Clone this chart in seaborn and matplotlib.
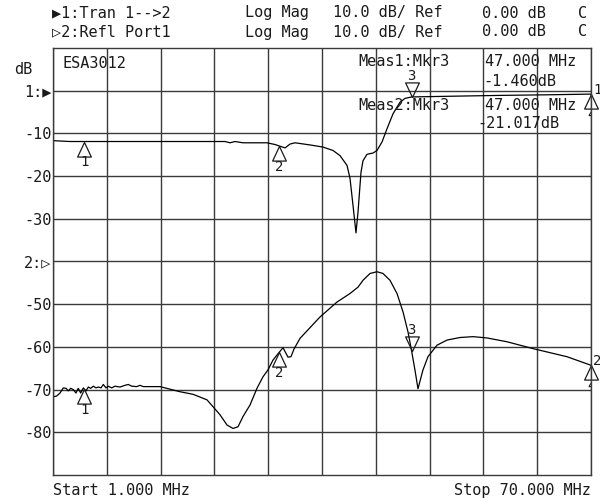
import numpy as np
import matplotlib
matplotlib.use('Agg')
import matplotlib.pyplot as plt
import seaborn as sns
from matplotlib.path import Path

# start / stop of the sweep (MHz) and the y scale (10 dB/div)
f_start, f_stop = 1.0, 70.0
ref_pos = {1: 0, 2: -40}   # where each trace's 0 dB reference sits on the grid

# trace 1 : Tran 1-->2 (dB)
t1_freq = [1.0, 3.18, 23.06, 23.70, 24.34, 25.37, 28.45, 29.47, 30.11, 30.76, 31.40, 32.04,
           33.96, 35.63, 36.91, 37.81, 38.71, 39.09, 39.48, 39.86, 40.12, 40.50, 40.76, 41.27,
           42.04, 42.55, 43.20, 43.84, 44.61, 45.50, 46.15, 47.0, 51.92, 58.33, 64.74, 70.0]
t1_db = [-11.7, -11.9, -11.9, -12.2, -11.9, -12.2, -12.2, -12.6, -13.0, -13.4, -12.5, -12.2,
         -12.7, -13.2, -14.0, -15.2, -17.5, -20.5, -26.9, -33.3, -28.4, -19.1, -16.4, -14.9,
         -14.6, -14.0, -12.0, -8.9, -5.4, -2.7, -1.8, -1.46, -1.3, -1.1, -0.95, -0.8]

# trace 2 : Refl Port1 (dB)
t2_freq = [1.0, 1.47, 1.90, 2.32, 2.67, 2.96, 3.27, 3.60, 3.95, 4.24, 4.55, 4.89, 5.23, 5.53,
           5.84, 6.17, 6.51, 6.81, 7.16, 7.45, 7.80, 8.09, 8.53, 8.95, 9.59, 10.23, 10.66,
           11.09, 11.73, 12.16, 12.58, 13.44, 14.72,
           16.01, 17.29, 18.96, 20.75, 21.52, 22.42, 23.32, 24.09, 24.73, 25.37, 26.27, 27.16,
           27.93, 28.57, 29.21, 29.86, 30.50, 30.88, 31.14, 31.52, 31.91, 32.68, 35.24, 37.42,
           39.09, 40.12, 40.76, 41.66, 42.55, 43.32, 44.22, 45.12, 45.89, 46.53, 47.0, 47.43,
           47.81, 48.45, 49.09, 50.25, 51.53, 53.20, 54.87, 56.66, 59.23, 62.56, 66.92, 70.0]
t2_db = [-31.7, -31.5, -30.8, -29.6, -29.7, -30.3, -29.7, -30.0, -30.8, -29.7, -30.8, -29.6,
         -30.3, -29.4, -29.7, -29.2, -29.6, -29.4, -29.6, -28.8, -29.6, -29.2, -29.6, -29.2,
         -29.4, -29.0, -28.8, -29.2, -29.3, -29.0, -29.3, -29.3, -29.3,
         -29.9, -30.5, -31.1, -32.4, -34.0, -35.9, -38.3, -39.1, -38.7, -36.3, -33.6, -29.7,
         -27.0, -25.4, -23.1, -21.6, -20.2, -21.5, -22.4, -22.3, -20.5, -18.0, -13.0, -9.5,
         -7.5, -6.0, -4.4, -2.8, -2.4, -2.8, -4.4, -7.5, -11.8, -16.5, -21.017, -25.5,
         -29.8, -25.4, -22.3, -19.6, -18.4, -17.8, -17.6, -17.9, -18.8, -20.4, -22.3, -24.3]

marker_freqs = [5.0, 30.0, 47.0, 70.0]
active_marker = 3

ytick_vals = [0, -10, -20, -30, -40, -50, -60, -70, -80]
ytick_labels = ['1:\u25b6', '-10', '-20', '-30', '2:\u25b7', '-50', '-60', '-70', '-80']

header = [('\u25b61:Tran 1-->2', 'Log Mag', '10.0 dB/ Ref', '0.00 dB', 'C'),
          ('\u25b72:Refl Port1', 'Log Mag', '10.0 dB/ Ref', '0.00 dB', 'C')]
readout = [('Meas1:Mkr3', '47.000 MHz', '-1.460dB'),
           ('Meas2:Mkr3', '47.000 MHz', '-21.017dB')]

sns.set_theme(style='white')
plt.rcParams['font.family'] = ['DejaVu Sans Mono', 'DejaVu Sans']
plt.rcParams['font.size'] = 11
ink = '#1a1a1a'
gridc = '#3a3a3a'

W, H = 600, 498
fig = plt.figure(figsize=(6, 4.98), dpi=100)
ax = fig.add_axes([53 / W, 1 - 475 / H, 538 / W, 427 / H])


def px_text(x, y, s, **kw):
    fig.text(x / W, 1 - y / H, s, va='center', color=ink, **kw)


# traces, shifted to their reference positions
for tr, fr, vals in [(1, t1_freq, t1_db), (2, t2_freq, t2_db)]:
    shown = np.array(vals) + ref_pos[tr]
    sns.lineplot(x=fr, y=shown, ax=ax, color='black', lw=0.9, estimator=None)

# markers
tri_up = Path([(0, 0), (-0.47, -1), (0.47, -1), (0, 0)], closed=True)
tri_dn = Path([(0, 0), (-0.47, 1), (0.47, 1), (0, 0)], closed=True)
for tr, fr, vals in [(1, t1_freq, t1_db), (2, t2_freq, t2_db)]:
    for i, mf in enumerate(marker_freqs, start=1):
        v = np.interp(mf, fr, vals) + ref_pos[tr]
        up = (i != active_marker)
        ax.plot([mf], [v], marker=tri_up if up else tri_dn, ms=21, mfc='none',
                mec=ink, mew=0.9, clip_on=False, ls='none')
        dy = -15 if up else 15
        last = (i == len(marker_freqs))
        ax.annotate(str(i), (mf, v), xytext=(0, dy), textcoords='offset points',
                    ha='center', va='center', color=ink, fontsize=10,
                    annotation_clip=False, clip_on=last)
    # trace number at the end of the sweep
    vend = np.interp(f_stop, fr, vals) + ref_pos[tr]
    ax.annotate(str(tr), (f_stop, vend), xytext=(1.5, 3), textcoords='offset points',
                ha='left', va='center', color=ink, fontsize=10, annotation_clip=False)

ax.set_xlim(f_start, f_stop)
ax.set_ylim(-90, 10)
ax.set_xticks(np.linspace(f_start, f_stop, 11))
ax.set_xticklabels([])
ax.set_yticks(ytick_vals)
ax.set_yticklabels(ytick_labels)
ax.tick_params(length=0, pad=1, labelsize=11, labelcolor=ink)
ax.grid(True, color=gridc, lw=1)
for sp in ax.spines.values():
    sp.set_color(gridc)
    sp.set_linewidth(1)
ax.set_xlabel('')
ax.set_ylabel('')

# header rows
for row, y in zip(header, [13, 32]):
    for s, x in zip(row, [52, 245, 333, 482, 578]):
        px_text(x, y, s)

px_text(14, 69, 'dB')
px_text(62, 63, 'ESA3012')
for (m, f, v), y in zip(readout, [62, 105]):
    px_text(358, y, m)
    px_text(485, y, f)
px_text(483, 81, readout[0][2])
px_text(477, 123, readout[1][2])

px_text(53, 490, 'Start 1.000 MHz')
px_text(591, 490, 'Stop 70.000 MHz', ha='right')

fig.savefig('out.png', dpi=100, facecolor='white')
